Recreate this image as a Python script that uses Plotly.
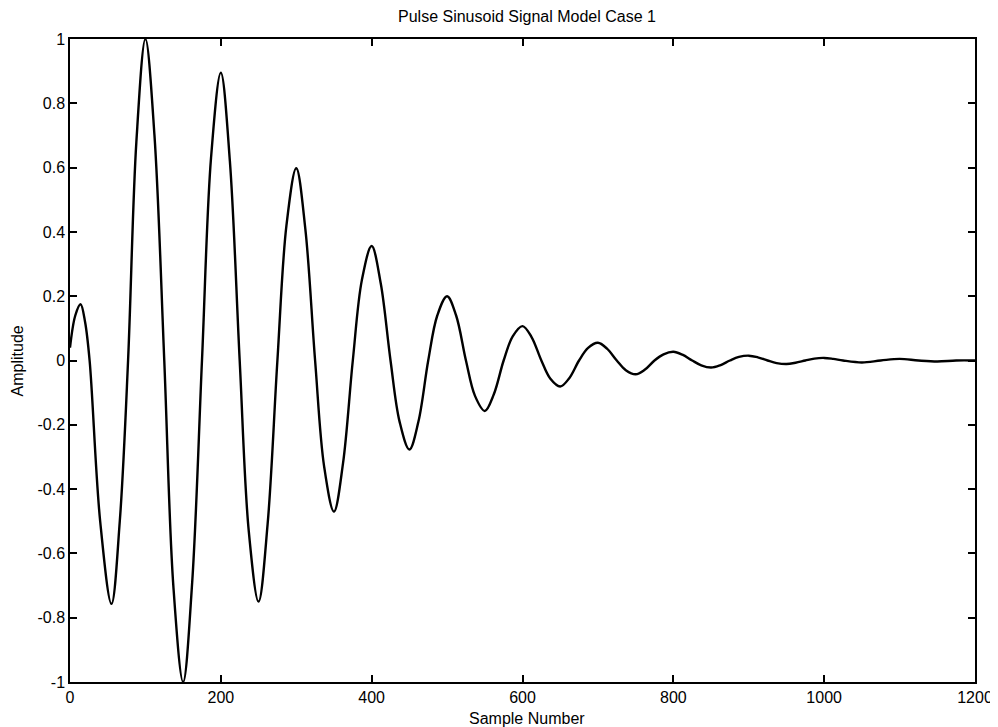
import plotly.graph_objects as go

# Points: start, extrema, zero crossings and mid-slope points
sample_number = [0, 7, 14, 20, 26, 40, 55, 66, 77, 88, 100, 112, 125, 137,
                 150, 162, 175, 187, 200, 212, 225, 237, 250, 262, 275, 287,
                 300, 312, 325, 337, 350, 362, 375, 387, 400, 412, 425, 437,
                 450, 462, 475, 487, 500, 512, 525, 537, 550, 562, 575, 587,
                 600, 612, 625, 637, 650, 662, 675, 687, 700, 712, 725, 737,
                 750, 762, 775, 787, 800, 812, 825, 837, 850, 862, 875, 887,
                 900, 912, 925, 937, 950, 962, 975, 987, 1000, 1012, 1025,
                 1050, 1075, 1100, 1125, 1150, 1175, 1200]
amplitude = [0.04, 0.14, 0.175, 0.12, 0.0, -0.50, -0.757, -0.50, 0.0, 0.68,
             1.0, 0.70, 0.0, -0.70, -1.0, -0.69, 0.0, 0.63, 0.895, 0.62, 0.0,
             -0.53, -0.75, -0.51, 0.0, 0.42, 0.598, 0.41, 0.0, -0.33, -0.47,
             -0.32, 0.0, 0.25, 0.356, 0.24, 0.0, -0.19, -0.277, -0.19, 0.0,
             0.14, 0.20, 0.14, 0.0, -0.11, -0.157, -0.105, 0.0, 0.075, 0.107,
             0.073, 0.0, -0.057, -0.081, -0.055, 0.0, 0.039, 0.055, 0.037,
             0.0, -0.030, -0.043, -0.029, 0.0, 0.019, 0.027, 0.018, 0.0,
             -0.015, -0.022, -0.015, 0.0, 0.011, 0.015, 0.010, 0.0, -0.008,
             -0.011, -0.007, 0.0, 0.006, 0.008, 0.005, 0.0, -0.006, 0.0,
             0.005, 0.0, -0.003, 0.0, 0.0]

x_ticks = [0, 200, 400, 600, 800, 1000, 1200]
x_tick_labels = ["0", "200", "400", "600", "800", "1000", "1200"]
y_ticks = [-1, -0.8, -0.6, -0.4, -0.2, 0, 0.2, 0.4, 0.6, 0.8, 1]
y_tick_labels = ["-1", "-0.8", "-0.6", "-0.4", "-0.2", "0", "0.2", "0.4",
                 "0.6", "0.8", "1"]

FONT = "Liberation Sans, Arial, sans-serif"

fig = go.Figure()
fig.add_trace(go.Scatter(
    x=sample_number, y=amplitude, mode="lines",
    line=dict(color="black", width=2.4, shape="spline", smoothing=1.0),
    showlegend=False, hoverinfo="skip"))

axis_common = dict(
    showgrid=False, zeroline=False, showline=True, linecolor="black",
    linewidth=1.5, mirror="ticks", ticks="inside", ticklen=7,
    tickwidth=1.5, tickcolor="black", automargin=False,
    tickfont=dict(family=FONT, size=16, color="black"))

# page body adds an 8px offset, so the figure is sized 990x719
fig.update_layout(
    width=990, height=719,
    margin=dict(l=62, r=23, t=31, b=45),
    paper_bgcolor="white", plot_bgcolor="white",
    xaxis=dict(range=[0, 1200], tickvals=x_ticks, ticktext=x_tick_labels,
               **axis_common),
    yaxis=dict(range=[-1, 1], tickvals=y_ticks, ticktext=y_tick_labels,
               **axis_common),
    annotations=[
        dict(text="Pulse Sinusoid Signal Model Case 1", xref="paper",
             yref="paper", x=0.505, y=1.0 + 22 / 643, xanchor="center",
             yanchor="middle", showarrow=False,
             font=dict(family=FONT, size=16, color="black")),
        dict(text="Sample Number", xref="paper", yref="paper",
             x=0.505, y=-0.056, xanchor="center", yanchor="middle",
             showarrow=False,
             font=dict(family=FONT, size=16, color="black")),
        dict(text="Amplitude", xref="paper", yref="paper",
             x=-0.0575, y=0.5, xanchor="center", yanchor="middle",
             textangle=-90, showarrow=False,
             font=dict(family=FONT, size=16, color="black")),
    ],
)

fig.write_html("out.html")
